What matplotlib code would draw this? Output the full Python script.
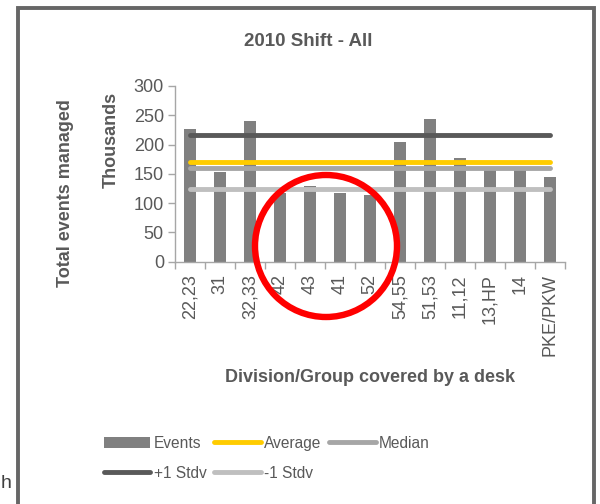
import matplotlib
matplotlib.use('Agg')
import matplotlib.pyplot as plt
from matplotlib.patches import Ellipse, Rectangle
import numpy as np

plt.rcParams['font.family'] = ['Liberation Sans', 'DejaVu Sans']

# dados (milhares)
categories = ['22,23', '31', '32,33', '42', '43', '41', '52',
              '54,55', '51,53', '11,12', '13,HP', '14', 'PKE/PKW']
events = [227, 154, 241, 118, 130, 118, 114, 205, 244, 177, 162, 160, 144]
average = 170
median = 160.5
plus_stdv = 216
minus_stdv = 124

txt = '#595959'
axis_col = '#a6a6a6'

fig = plt.figure(figsize=(6, 5.04), dpi=100)
ax = fig.add_axes([175 / 600, 1 - 261.7 / 504, 390 / 600, 175.7 / 504])

x = np.arange(len(categories))
n = len(categories)
bars = ax.bar(x, events, width=0.4, color='#808080', label='Events', zorder=2)
l_avg, = ax.plot(x, [average] * n, color='#ffcc00', lw=3.5, solid_capstyle='round', label='Average', zorder=3)
l_med, = ax.plot(x, [median] * n, color='#a6a6a6', lw=3.5, solid_capstyle='round', label='Median', zorder=3)
l_plus, = ax.plot(x, [plus_stdv] * n, color='#595959', lw=3.5, solid_capstyle='round', label='+1 Stdv', zorder=3)
l_minus, = ax.plot(x, [minus_stdv] * n, color='#bfbfbf', lw=3.5, solid_capstyle='round', label='-1 Stdv', zorder=3)

ax.set_xlim(-0.5, n - 0.5)
ax.set_ylim(0, 300)
ax.set_yticks(np.arange(0, 301, 50))
ax.set_xticks(x)
ax.set_xticklabels(categories, rotation=90, fontsize=13, color=txt)
ax.set_xticks(np.arange(-0.5, n, 1), minor=True)
ax.tick_params(axis='x', which='major', length=0, pad=9)
ax.tick_params(axis='x', which='minor', length=5, color=axis_col, width=1)
ax.tick_params(axis='y', labelsize=13, labelcolor=txt, length=5, color=axis_col, width=1, pad=3)

for s in ['top', 'right']:
    ax.spines[s].set_visible(False)
for s in ['left', 'bottom']:
    ax.spines[s].set_color(axis_col)
    ax.spines[s].set_linewidth(1)

# títulos
fig.text(308 / 600, 1 - 42 / 504, '2010 Shift - All', ha='center', va='center',
         fontsize=13.5, fontweight='bold', color=txt)
fig.text(370 / 600, 1 - 378 / 504, 'Division/Group covered by a desk', ha='center', va='center',
         fontsize=13, fontweight='bold', color=txt)
fig.text(65 / 600, 1 - 193 / 504, 'Total events managed', ha='center', va='center',
         rotation=90, fontsize=13, fontweight='bold', color=txt)
fig.text(111 / 600, 1 - 140 / 504, 'Thousands', ha='center', va='center',
         rotation=90, fontsize=13, fontweight='bold', color=txt)

# legenda (ordem por colunas para formar duas linhas)
handles = [bars, l_plus, l_avg, l_minus, l_med]
labels = ['Events', '+1 Stdv', 'Average', '-1 Stdv', 'Median']
fig.legend(handles, labels, ncol=3, loc='upper left', bbox_to_anchor=(96 / 600, 1 - 428 / 504),
           frameon=False, fontsize=11.2, labelcolor=txt, handlelength=3.0,
           handletextpad=0.2, columnspacing=0.5, labelspacing=0.95, borderpad=0)

# moldura e anotações
fig.add_artist(Rectangle((18 / 600, -0.05), 576 / 600, 1.05 - 7.5 / 504, transform=fig.transFigure,
                         fill=False, edgecolor='#666666', lw=2.8))
fig.add_artist(Ellipse((326 / 600, 1 - 246 / 504), 142 / 600, 142 / 504, transform=fig.transFigure,
                       fill=False, edgecolor='#ff0000', lw=4.6, zorder=10))
fig.text(12 / 600, 1 - 484 / 504, 'h', ha='right', va='center', fontsize=14, color='#404040')

fig.savefig('out.png', dpi=100)
